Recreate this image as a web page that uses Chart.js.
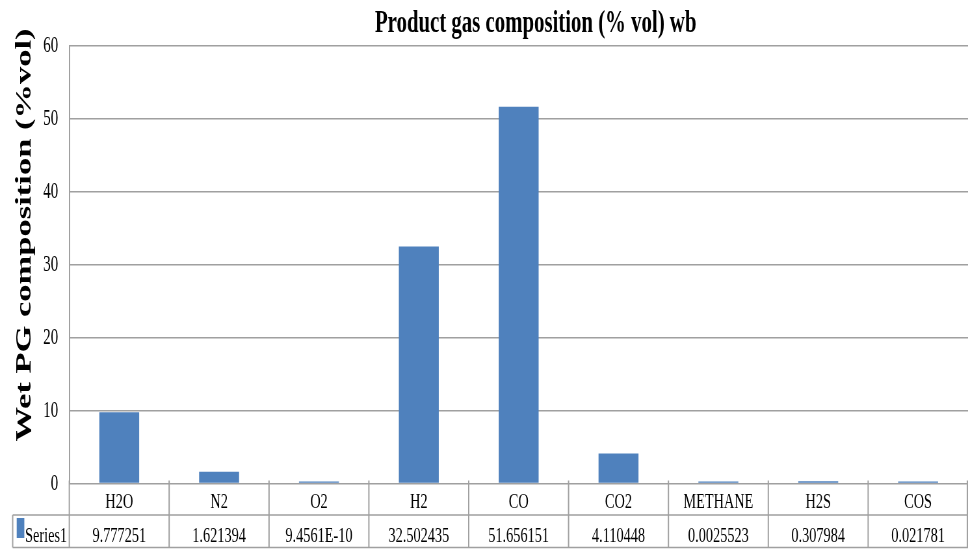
<!DOCTYPE html>
<html>
<head>
<meta charset="utf-8">
<script src="https://cdn.jsdelivr.net/npm/chart.js@4/dist/chart.umd.min.js"></script>
<style>
  html, body { margin: 0; padding: 0; background: #fff; }
</style>
</head>
<body>
<!-- canvas is drawn wide and squeezed to 968px, which gives the narrow type -->
<canvas id="gasChart" width="1489" height="549" style="display:block;width:968px;height:549px"></canvas>
<script>
const categories = ['H2O', 'N2', 'O2', 'H2', 'CO', 'CO2', 'METHANE', 'H2S', 'COS'];
const series1 = [9.777251, 1.621394, 9.4561e-10, 32.502435, 51.656151, 4.110448, 0.0025523, 0.307984, 0.021781];
const seriesName = 'Series1';
const yMin = 0;
const yMax = 60;
const yStep = 10;

const chartTitle = 'Product gas composition (% vol) wb';
const yTitle = 'Wet PG composition (%vol)';

const SERIF = '"Liberation Serif", "Times New Roman", serif';
const BAR_COLOR = '#4f81bd';
const LINE_COLOR = '#a0a0a0';

// formats numbers the way a spreadsheet "General" cell shows them
function fmt(v) {
  return String(v).toUpperCase();
}

const tablePlugin = {
  id: 'dataTable',
  afterDraw(chart) {
    const ctx = chart.ctx;
    const area = chart.chartArea;
    const xs = chart.scales.x;
    const n = categories.length;
    const colW = (xs.right - xs.left) / n;
    const tableLeft = 19.5;
    const row1Bottom = 515;
    const tableBottom = 547.5;
    const right = chart.width;

    ctx.save();
    ctx.strokeStyle = LINE_COLOR;

    // horizontal rules
    ctx.lineWidth = 1.5;
    ctx.beginPath();
    ctx.moveTo(tableLeft, row1Bottom);
    ctx.lineTo(right, row1Bottom);
    ctx.moveTo(tableLeft, tableBottom);
    ctx.lineTo(right, tableBottom);
    ctx.stroke();

    // column rules
    ctx.lineWidth = 2;
    ctx.beginPath();
    ctx.moveTo(tableLeft, row1Bottom);
    ctx.lineTo(tableLeft, tableBottom);
    for (let i = 0; i <= n; i++) {
      const px = Math.min(xs.getPixelForValue(i) - colW / 2, right - 1);
      ctx.moveTo(px, area.bottom - 3);
      ctx.lineTo(px, tableBottom);
    }
    ctx.stroke();

    // legend key + series name
    ctx.fillStyle = BAR_COLOR;
    ctx.fillRect(25.7, 518, 11.7, 20);
    ctx.fillStyle = '#000';
    ctx.font = '22px ' + SERIF;
    ctx.textAlign = 'left';
    ctx.textBaseline = 'alphabetic';
    ctx.fillText(seriesName, 38.5, 541.5);

    // values row
    ctx.textAlign = 'center';
    series1.forEach((v, i) => {
      ctx.fillText(fmt(v), xs.getPixelForValue(i), 541.5);
    });

    // chart title
    ctx.font = 'bold 32px ' + SERIF;
    ctx.fillText(chartTitle, 824, 32);

    // rotated y-axis title
    ctx.translate(47, 235);
    ctx.rotate(-Math.PI / 2);
    ctx.font = 'bold 34.5px ' + SERIF;
    ctx.fillText(yTitle, 0, 0);
    ctx.restore();
  }
};

new Chart(document.getElementById('gasChart'), {
  type: 'bar',
  data: {
    labels: categories,
    datasets: [{
      label: seriesName,
      data: series1,
      backgroundColor: BAR_COLOR,
      borderWidth: 0,
      barPercentage: 0.4,
      categoryPercentage: 1,
      minBarLength: 2
    }]
  },
  options: {
    responsive: false,
    devicePixelRatio: 1,
    animation: false,
    layout: { padding: { top: 46, left: 0, right: 0, bottom: 0 } },
    scales: {
      x: {
        grid: { display: false, drawTicks: false },
        border: { display: false },
        ticks: {
          color: '#000',
          padding: 6,
          maxRotation: 0,
          autoSkip: false,
          font: { family: SERIF, size: 22 }
        },
        afterFit(scale) { scale.height = 65.5; }
      },
      y: {
        min: yMin,
        max: yMax,
        grid: { color: LINE_COLOR, lineWidth: 1.5, drawTicks: false },
        border: { display: true, color: LINE_COLOR, width: 2 },
        ticks: {
          stepSize: yStep,
          color: '#000',
          padding: 17,
          font: { family: SERIF, size: 23 }
        },
        afterFit(scale) { scale.width = 106.6; }
      }
    },
    plugins: {
      legend: { display: false },
      title: { display: false },
      tooltip: { enabled: false }
    }
  },
  plugins: [tablePlugin]
});
</script>
</body>
</html>
